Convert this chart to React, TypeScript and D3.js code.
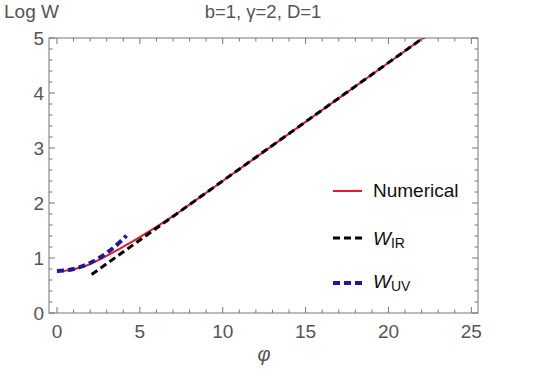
import React from 'react';
import { scaleLinear, line, curveCatmullRom, range } from 'd3';

// values
const numericalPhi = [0, 0.5, 1, 1.5, 2, 2.5, 3, 3.5, 4, 4.5, 5, 6, 7, 8, 10, 15, 20, 22.5];
const numericalW = [0.764, 0.77, 0.795, 0.835, 0.89, 0.96, 1.04, 1.12, 1.205, 1.29, 1.38, 1.565, 1.76, 1.97, 2.4, 3.475, 4.55, 5.09];

const irPhi = [2.09, 22.5];
const irW = [0.7, 5.09];

const uvPhi = [0, 0.5, 1, 1.5, 2, 2.5, 3, 3.5, 4, 4.2];
const uvW = [0.764, 0.773, 0.8, 0.846, 0.91, 0.992, 1.092, 1.21, 1.347, 1.406];

const xTicks = [0, 5, 10, 15, 20, 25];
const yTicks = [0, 1, 2, 3, 4, 5];

const W = 540;
const H = 378;
const left = 49;
const right = 478;
const top = 38;
const bottom = 313;

const font = '"Liberation Sans", Arial, sans-serif';
const axisColor = '#777';
const labelColor = '#555';

const App = () => {
  const x = scaleLinear().domain([-0.48, 25.4]).range([left, right]);
  const y = scaleLinear().domain([0, 5]).range([bottom, top]);

  const toPts = (xs: number[], ys: number[]) => xs.map((v, i) => [v, ys[i]] as [number, number]);
  const path = line<[number, number]>()
    .x(d => x(d[0]))
    .y(d => y(d[1]))
    .curve(curveCatmullRom);

  const xMinor = range(0, 26, 1).filter(v => v % 5 !== 0);
  const yMinor = range(0, 5.01, 0.2).filter(v => Math.abs(v - Math.round(v)) > 0.01);

  return (
    <svg width={W} height={H} style={{ position: 'absolute', left: 0, top: 0, background: '#fff' }}>
      <defs>
        <clipPath id="plot">
          <rect x={left} y={top} width={right - left} height={bottom - top} />
        </clipPath>
      </defs>

      <g clipPath="url(#plot)" fill="none">
        <path d={path(toPts(numericalPhi, numericalW)) || ''} stroke="#e8182a" strokeWidth={2} />
        <path d={path(toPts(irPhi, irW)) || ''} stroke="#000" strokeWidth={3} strokeDasharray="7,4" />
        <path d={path(toPts(uvPhi, uvW)) || ''} stroke="#1a1a9c" strokeWidth={4} strokeDasharray="7,4" />
      </g>

      {/* frame */}
      <rect x={left} y={top} width={right - left} height={bottom - top} fill="none" stroke={axisColor} strokeWidth={1} />

      {/* x ticks, bottom and top */}
      {xTicks.map(t => (
        <g key={'xt' + t}>
          <line x1={x(t)} x2={x(t)} y1={bottom} y2={bottom - 6} stroke={axisColor} />
          <line x1={x(t)} x2={x(t)} y1={top} y2={top + 6} stroke={axisColor} />
          <text x={x(t)} y={bottom + 25} textAnchor="middle" fontFamily={font} fontSize={19} fill={labelColor}>{t}</text>
        </g>
      ))}
      {xMinor.map(t => (
        <g key={'xm' + t}>
          <line x1={x(t)} x2={x(t)} y1={bottom} y2={bottom - 3.5} stroke={axisColor} />
          <line x1={x(t)} x2={x(t)} y1={top} y2={top + 3.5} stroke={axisColor} />
        </g>
      ))}

      {/* y ticks, left and right */}
      {yTicks.map(t => (
        <g key={'yt' + t}>
          <line x1={left} x2={left + 6} y1={y(t)} y2={y(t)} stroke={axisColor} />
          <line x1={right} x2={right - 6} y1={y(t)} y2={y(t)} stroke={axisColor} />
          <text x={left - 5} y={y(t)} dy="0.36em" textAnchor="end" fontFamily={font} fontSize={19} fill={labelColor}>{t}</text>
        </g>
      ))}
      {yMinor.map(t => (
        <g key={'ym' + t.toFixed(1)}>
          <line x1={left} x2={left + 3.5} y1={y(t)} y2={y(t)} stroke={axisColor} />
          <line x1={right} x2={right - 3.5} y1={y(t)} y2={y(t)} stroke={axisColor} />
        </g>
      ))}

      {/* titles */}
      <text x={4} y={18} fontFamily={font} fontSize={19} fill={labelColor}>Log W</text>
      <text x={263} y={18} textAnchor="middle" fontFamily={font} fontSize={18.5} fill={labelColor}>b=1, γ=2, D=1</text>
      <text x={264} y={361} textAnchor="middle" fontFamily={font} fontSize={20} fontStyle="italic" fill={labelColor}>φ</text>

      {/* legend */}
      <line x1={333} x2={362} y1={191} y2={191} stroke="#e8182a" strokeWidth={2} />
      <text x={373} y={197} fontFamily={font} fontSize={19} fill="#111">Numerical</text>

      <line x1={333} x2={362} y1={238} y2={238} stroke="#000" strokeWidth={3} strokeDasharray="7,4" />
      <text x={373} y={245} fontFamily={font} fontSize={19} fill="#111">
        <tspan fontStyle="italic">W</tspan>
        <tspan fontSize={14} dy={3}>IR</tspan>
      </text>

      <line x1={333} x2={362} y1={283} y2={283} stroke="#1a1a9c" strokeWidth={4} strokeDasharray="7,4" />
      <text x={373} y={288} fontFamily={font} fontSize={19} fill="#111">
        <tspan fontStyle="italic">W</tspan>
        <tspan fontSize={14} dy={3}>UV</tspan>
      </text>
    </svg>
  );
};

export default App;
